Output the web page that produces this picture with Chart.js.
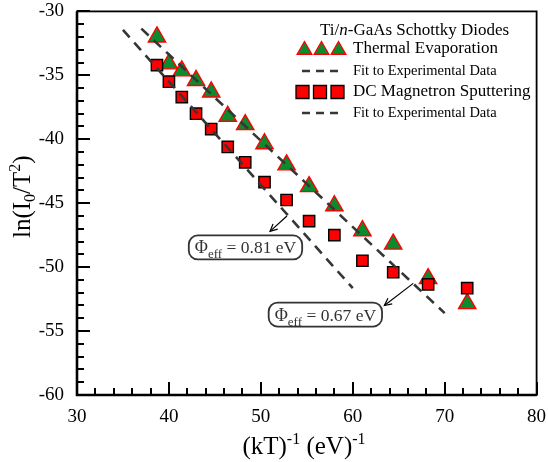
<!DOCTYPE html>
<html>
<head>
<meta charset="utf-8">
<script src="https://cdn.jsdelivr.net/npm/chart.js@4.4.1/dist/chart.umd.min.js"></script>
<style>
  html, body { margin: 0; padding: 0; background: #ffffff; }
  #wrap { width: 548px; height: 462px; }
</style>
</head>
<body>
<div id="wrap"><canvas id="c" width="548" height="462"></canvas></div>
<script>
// ---- data ----
const invKT      = [38.7, 40.0, 41.4, 42.95, 44.6, 46.4, 48.3, 50.4, 52.8, 55.25, 58.0, 61.05, 64.4, 68.2, 72.45];
const thermalLn  = [-32.0, -34.1, -34.65, -35.4, -36.3, -38.2, -38.85, -40.35, -42.0, -43.7, -45.2, -47.15, -48.2, -50.9, -52.85];
const sputterLn  = [-34.2, -35.5, -36.7, -38.0, -39.2, -40.6, -41.8, -43.35, -44.75, -46.4, -47.5, -49.5, -50.4, -51.35, -51.65];
const fitThermalX = [37.0, 70.0];
const fitThermalY = [-31.35, -53.6];
const fitSputterX = [35.0, 60.0];
const fitSputterY = [-31.45, -51.65];
const xTicks = [30, 40, 50, 60, 70, 80];
const yTicks = [-60, -55, -50, -45, -40, -35, -30];
const legendTitle = ['Ti/', 'n', '-GaAs Schottky Diodes'];
const seriesNames = ['Thermal Evaporation', 'Fit to Experimental Data', 'DC Magnetron Sputtering', 'Fit to Experimental Data'];
const barrierLabels = ['0.81', '0.67'];

const pts = (xs, ys) => xs.map((x, i) => ({ x: x, y: ys[i] }));

const FONT = "'Liberation Serif', 'Times New Roman', serif";
Chart.defaults.font.family = FONT;
const GREEN = '#0b8a2e';
const RED = '#ff0000';
const DASH = '#363636';

// annotation placement (data units)
const notes = [
  { label: barrierLabels[0], cx: 48.33, cy: -48.46, fx: 52.84, fy: -46.0, tx: 51.0, ty: -47.2 },
  { label: barrierLabels[1], cx: 57.02, cy: -53.71, fx: 66.58, fy: -51.27, tx: 63.44, ty: -53.0 }
];

function triPath(ctx, x, y, r) {
  let a = 0;
  ctx.beginPath();
  ctx.moveTo(x + Math.sin(a) * r, y - Math.cos(a) * r);
  a += 2 * Math.PI / 3;
  ctx.lineTo(x + Math.sin(a) * r, y - Math.cos(a) * r);
  a += 2 * Math.PI / 3;
  ctx.lineTo(x + Math.sin(a) * r, y - Math.cos(a) * r);
  ctx.closePath();
}

function drawParts(ctx, parts, x, y) {
  let cx = x;
  for (const p of parts) {
    ctx.font = (p[3] ? 'italic ' : '') + p[1] + 'px ' + FONT;
    ctx.fillText(p[0], cx, y + p[2]);
    cx += ctx.measureText(p[0]).width;
  }
  return cx - x;
}
function measureParts(ctx, parts) {
  let w = 0;
  for (const p of parts) {
    ctx.font = (p[3] ? 'italic ' : '') + p[1] + 'px ' + FONT;
    w += ctx.measureText(p[0]).width;
  }
  return w;
}

const decor = {
  id: 'decor',
  beforeDraw(chart) {
    const ctx = chart.ctx;
    ctx.save();
    ctx.fillStyle = '#ffffff';
    ctx.fillRect(0, 0, chart.width, chart.height);
    ctx.restore();
  },
  afterDraw(chart) {
    const ctx = chart.ctx;
    const a = chart.chartArea;
    const xs = chart.scales.x, ys = chart.scales.y;
    ctx.save();
    ctx.strokeStyle = '#000';
    ctx.lineWidth = 1.8;
    ctx.strokeRect(a.left, a.top, a.right - a.left, a.bottom - a.top);
    ctx.lineWidth = 2.6;
    ctx.beginPath();
    ctx.moveTo(a.left, a.top); ctx.lineTo(a.left, a.bottom); ctx.lineTo(a.right, a.bottom);
    ctx.stroke();
    ctx.lineWidth = 2;
    ctx.beginPath();
    for (let v = 30; v <= 80; v += 2) {
      const px = Math.round(xs.getPixelForValue(v));
      const len = (v % 10 === 0) ? 13 : 7;
      ctx.moveTo(px, a.bottom); ctx.lineTo(px, a.bottom - len);
    }
    for (let v = -60; v <= -30; v += 1) {
      const py = Math.round(ys.getPixelForValue(v));
      const len = (v % 5 === 0) ? 13 : 7;
      ctx.moveTo(a.left, py); ctx.lineTo(a.left + len, py);
    }
    ctx.stroke();

    ctx.fillStyle = '#000';
    ctx.textBaseline = 'alphabetic';
    const xt = [['(kT)', 25, 0], ['-1', 16, -10], [' (eV)', 25, 0], ['-1', 16, -10]];
    const xw = measureParts(ctx, xt);
    drawParts(ctx, xt, 304 - xw / 2, 454);
    const yt = [['ln(I', 25, 0], ['0', 16, 5], ['/T', 25, 0], ['2', 16, -10], [')', 25, 0]];
    ctx.save();
    ctx.translate(30, 238);
    ctx.rotate(-Math.PI / 2);
    drawParts(ctx, yt, 0, 0);
    ctx.restore();

    // legend
    ctx.fillStyle = '#000';
    ctx.textBaseline = 'middle';
    drawParts(ctx, [[legendTitle[0], 17, 0], [legendTitle[1], 17, 0, true], [legendTitle[2], 17, 0]], 320, 31);
    for (const cx of [304.5, 321.5, 338.5]) {
      triPath(ctx, cx, 50, 8.5);
      ctx.fillStyle = GREEN; ctx.fill();
      ctx.strokeStyle = RED; ctx.lineWidth = 1.3; ctx.stroke();
    }
    for (const cx of [302.5, 320, 337.5]) {
      ctx.beginPath(); ctx.rect(cx - 6.5, 92 - 6.5, 13, 13);
      ctx.fillStyle = RED; ctx.fill();
      ctx.strokeStyle = '#000'; ctx.lineWidth = 1.3; ctx.stroke();
    }
    ctx.strokeStyle = DASH; ctx.lineWidth = 2.5;
    for (const yy of [71, 113]) {
      ctx.beginPath();
      for (const sx of [302, 316, 330]) { ctx.moveTo(sx, yy); ctx.lineTo(sx + 8, yy); }
      ctx.stroke();
    }
    ctx.fillStyle = '#000';
    ctx.font = '17px ' + FONT;
    ctx.fillText(seriesNames[0], 353, 49);
    ctx.fillText(seriesNames[2], 353, 92);
    ctx.font = '14.5px ' + FONT;
    ctx.fillText(seriesNames[1], 353, 71);
    ctx.fillText(seriesNames[3], 353, 113);

    // annotations
    for (const n of notes) {
      const parts = [['\u03A6', 18, 0], ['eff', 13, 5], [' = ' + n.label + ' eV', 17.5, 0]];
      const w = measureParts(ctx, parts);
      const bw = w + 12, bh = 24;
      const cx = xs.getPixelForValue(n.cx), cy = ys.getPixelForValue(n.cy);
      ctx.beginPath();
      ctx.roundRect(cx - bw / 2, cy - bh / 2, bw, bh, 9);
      ctx.fillStyle = '#fff'; ctx.fill();
      ctx.strokeStyle = '#333'; ctx.lineWidth = 1.8; ctx.stroke();
      ctx.fillStyle = '#333';
      ctx.textBaseline = 'alphabetic';
      drawParts(ctx, parts, cx - w / 2, cy + 6);
      const x1 = xs.getPixelForValue(n.fx), y1 = ys.getPixelForValue(n.fy);
      const x2 = xs.getPixelForValue(n.tx), y2 = ys.getPixelForValue(n.ty);
      ctx.strokeStyle = '#000'; ctx.lineWidth = 1.2;
      ctx.beginPath(); ctx.moveTo(x1, y1); ctx.lineTo(x2, y2); ctx.stroke();
      const ang = Math.atan2(y2 - y1, x2 - x1);
      ctx.beginPath();
      ctx.moveTo(x2 - 8 * Math.cos(ang - 0.45), y2 - 8 * Math.sin(ang - 0.45));
      ctx.lineTo(x2, y2);
      ctx.lineTo(x2 - 8 * Math.cos(ang + 0.45), y2 - 8 * Math.sin(ang + 0.45));
      ctx.stroke();
    }
    ctx.restore();
  }
};

new Chart(document.getElementById('c'), {
  type: 'scatter',
  data: {
    datasets: [
      { label: seriesNames[0], data: pts(invKT, thermalLn), pointStyle: 'triangle', pointRadius: 10,
        backgroundColor: GREEN, borderColor: RED, borderWidth: 1.4, showLine: false, order: 2 },
      { label: seriesNames[2], data: pts(invKT, sputterLn), pointStyle: 'rect', pointRadius: 8,
        backgroundColor: RED, borderColor: '#000', borderWidth: 1.4, showLine: false, order: 1 },
      { label: seriesNames[1], data: pts(fitThermalX, fitThermalY), showLine: true, pointRadius: 0,
        borderColor: DASH, borderWidth: 2.6, borderDash: [10, 7], fill: false, order: 0 },
      { label: seriesNames[3], data: pts(fitSputterX, fitSputterY), showLine: true, pointRadius: 0,
        borderColor: DASH, borderWidth: 2.6, borderDash: [10, 7], fill: false, order: 0 }
    ]
  },
  options: {
    responsive: false,
    devicePixelRatio: 1,
    animation: false,
    layout: { padding: { left: 0, right: 9, top: 11, bottom: 0 } },
    plugins: { legend: { display: false }, tooltip: { enabled: false } },
    scales: {
      x: {
        type: 'linear', min: 30, max: 80,
        afterBuildTicks: s => { s.ticks = xTicks.map(v => ({ value: v })); },
        ticks: { font: { family: FONT, size: 19 }, color: '#000', padding: 11, maxRotation: 0 },
        grid: { display: false, drawTicks: false },
        border: { display: false },
        afterFit: s => { s.height = 67; s.paddingLeft = 0; s.paddingRight = 0; }
      },
      y: {
        type: 'linear', min: -60, max: -30,
        afterBuildTicks: s => { s.ticks = yTicks.map(v => ({ value: v })); },
        ticks: { font: { family: FONT, size: 19 }, color: '#000', padding: 13 },
        grid: { display: false, drawTicks: false },
        border: { display: false },
        afterFit: s => { s.width = 77; s.paddingTop = 0; s.paddingBottom = 0; }
      }
    }
  },
  plugins: [decor]
});
</script>
</body>
</html>
